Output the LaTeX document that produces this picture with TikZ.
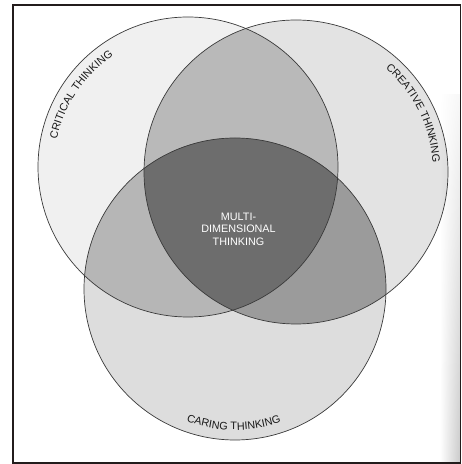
\documentclass[tikz,border=0pt]{standalone}
\usepackage{fontspec}
\setmainfont{Liberation Sans}
\usetikzlibrary{decorations.text,fadings,shadings}
\definecolor{critfill}{HTML}{F0F0F0}
\definecolor{creafill}{HTML}{E3E3E3}
\definecolor{carefill}{HTML}{DDDDDD}
\definecolor{abfill}{HTML}{B9B9B9}
\definecolor{acfill}{HTML}{B6B6B6}
\definecolor{bcfill}{HTML}{9B9B9B}
\definecolor{abcfill}{HTML}{6D6D6D}
\definecolor{edge}{HTML}{3A3A3A}
\definecolor{framecol}{HTML}{231C1C}
\tikzfading[name=scanfade, upper left=transparent!100, upper right=transparent!85,
  lower left=transparent!100, lower right=transparent!0]
\tikzset{
  ring/.style={draw=edge, line width=0.7pt},
  arclabel/.style={decorate, decoration={text along path, text align=center,
     text={|\fontsize{10.8}{12}\selectfont\color{black!90}|#1}}},
  centerlabel/.style={text=white, font=\fontsize{10.8}{12.6}\selectfont, align=center, inner sep=0pt}
}
\begin{document}
\begin{tikzpicture}[x=1pt,y=1pt]
\useasboundingbox (0,0) rectangle (462,464);
\fill[white] (0,0) rectangle (462,464);
\coordinate (A) at (188,297);
\coordinate (B) at (296,292);
\coordinate (C) at (235,175);
% single fills
\fill[critfill] (A) circle[radius=150];
\fill[creafill] (B) circle[radius=152];
\fill[carefill] (C) circle[radius=151];
% pairwise
\begin{scope}\clip (A) circle[radius=150]; \fill[abfill] (B) circle[radius=152];\end{scope}
\begin{scope}\clip (A) circle[radius=150]; \fill[acfill] (C) circle[radius=151];\end{scope}
\begin{scope}\clip (B) circle[radius=152]; \fill[bcfill] (C) circle[radius=151];\end{scope}
\begin{scope}\clip (A) circle[radius=150]; \clip (B) circle[radius=152]; \fill[abcfill] (C) circle[radius=151];\end{scope}
% outlines
\draw[ring] (A) circle[radius=150];
\draw[ring] (B) circle[radius=152];
\draw[ring] (C) circle[radius=151];
% arc labels
\path[arclabel={CRITICAL THINKING}] ([shift={(A)}]176:134) arc[start angle=176, end angle=116, radius=134];
\path[arclabel={CREATIVE THINKING}] ([shift={(B)}]60:137) arc[start angle=60, end angle=-7, radius=137];
\path[arclabel={CARING THINKING}] ([shift={(C)}]240:141) arc[start angle=240, end angle=299, radius=141];
% centre label
\node[centerlabel] (multi) at (238.5,235) {MULTI-\\DIMENSIONAL\\THINKING};
% scan shadow at right
\fill[black, path fading=scanfade, fill opacity=0.22] (438,2) rectangle (459.5,370);
% frame
\draw[framecol, line width=1.8pt] (13,459) rectangle (460.5,1);
\end{tikzpicture}
\end{document}
